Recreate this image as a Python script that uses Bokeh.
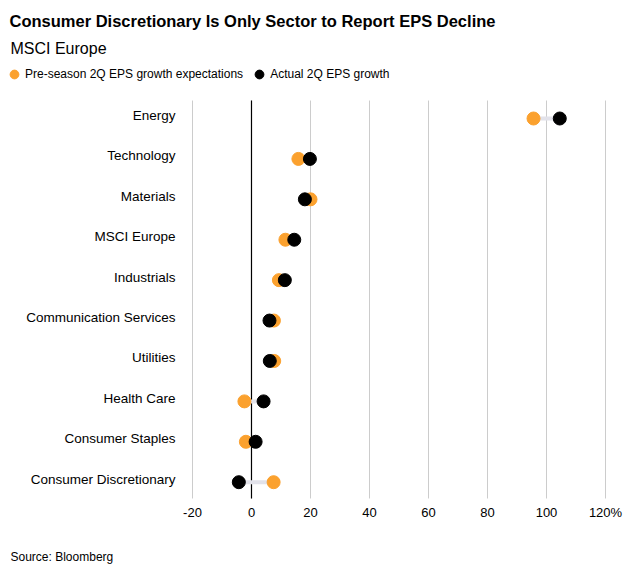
from bokeh.plotting import figure
from bokeh.models import Range1d, Label, Legend, LegendItem, ColumnDataSource
from bokeh.core.properties import value
from bokeh.embed import file_html
from bokeh.resources import INLINE

sectors = ["Energy", "Technology", "Materials", "MSCI Europe", "Industrials",
           "Communication Services", "Utilities", "Health Care", "Consumer Staples",
           "Consumer Discretionary"]
expected = [95.6, 15.9, 20.0, 11.5, 9.3, 7.6, 7.7, -2.4, -1.9, 7.5]
actual = [104.5, 19.8, 18.1, 14.5, 11.3, 6.1, 6.2, 4.1, 1.4, -4.3]
x_ticks = [-20, 0, 20, 40, 60, 80, 100, 120]
x_tick_labels = ["-20", "0", "20", "40", "60", "80", "100", "120%"]

ORANGE = "#fba12e"
BLACK = "#000000"
FONT = "Liberation Sans"

n = len(sectors)
ypos = [n - 1 - i for i in range(n)]
lo = [min(a, b) for a, b in zip(expected, actual)]
hi = [max(a, b) for a, b in zip(expected, actual)]
src = ColumnDataSource(dict(y=ypos, exp=expected, act=actual, lo=lo, hi=hi, name=sectors))

# the plot area covers the whole canvas; value scale -20..120 sits in its right part
X_MIN = x_ticks[0]
Y_BOT, Y_TOP = -0.403, n - 1 + 0.445
p = figure(width=623, height=566, title=None,
           x_range=Range1d(-85.08, 126.1), y_range=Range1d(-2.086, 11.92),
           output_backend="svg", toolbar_location=None,
           min_border_left=0, min_border_right=0, min_border_top=0, min_border_bottom=0)
p.outline_line_color = None
p.background_fill_color = "white"
p.xgrid.visible = False
p.ygrid.visible = False
p.xaxis.visible = False
p.yaxis.visible = False

# vertical grid lines, zero line and value tick labels
tick_src = ColumnDataSource(dict(x=x_ticks, label=x_tick_labels,
                                 y0=[Y_BOT] * len(x_ticks), y1=[Y_TOP] * len(x_ticks)))
p.segment(x0="x", x1="x", y0="y0", y1="y1", source=tick_src, line_color="#cccccc", line_width=1)
p.segment(x0=[0], x1=[0], y0=[Y_BOT], y1=[Y_TOP], line_color="black", line_width=1.2)
p.text(x="x", y="y0", text="label", source=tick_src, y_offset=14,
       text_align="center", text_baseline="middle", text_font=value(FONT),
       text_font_size="13px", text_color="#000000")

# dumbbells
p.segment(x0="lo", x1="hi", y0="y", y1="y", source=src, line_color="#e2e2ea", line_width=4)
r1 = p.scatter(x="exp", y="y", source=src, size=13, color=ORANGE)
r2 = p.scatter(x="act", y="y", source=src, size=13, color=BLACK)

# category labels, right-aligned just left of the -20 grid line
p.text(x=X_MIN, y="y", text="name", source=src, x_offset=-17, y_offset=-3,
       text_align="right", text_baseline="middle", text_font=value(FONT),
       text_font_size="13.5px", text_color="#000000")

legend = Legend(items=[LegendItem(label="Pre-season 2Q EPS growth expectations", renderers=[r1]),
                       LegendItem(label="Actual 2Q EPS growth", renderers=[r2])],
                orientation="horizontal", location=(3, 481), margin=0, padding=0, spacing=5,
                glyph_width=22, glyph_height=22, label_height=22, label_standoff=0,
                label_text_font=FONT, label_text_font_size="12px", label_text_color="#000000",
                background_fill_alpha=0, border_line_color=None)
p.add_layout(legend, "center")

p.add_layout(Label(x=9, y=546, x_units="screen", y_units="screen",
                   text="Consumer Discretionary Is Only Sector to Report EPS Decline",
                   text_font=FONT, text_font_style="bold", text_font_size="16.5px",
                   text_baseline="middle", text_color="#000000"))
p.add_layout(Label(x=10, y=518, x_units="screen", y_units="screen", text="MSCI Europe",
                   text_font=FONT, text_font_size="16px", text_baseline="middle",
                   text_color="#000000"))
p.add_layout(Label(x=10, y=10, x_units="screen", y_units="screen", text="Source: Bloomberg",
                   text_font=FONT, text_font_size="12px", text_baseline="middle",
                   text_color="#000000"))

open("out.html", "w").write(file_html(p, INLINE))
